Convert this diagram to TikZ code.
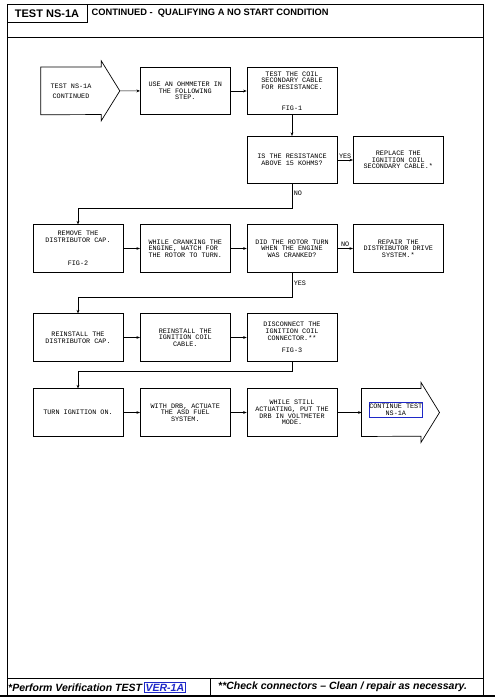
\documentclass[tikz,border=0pt]{standalone}
\usepackage{fontspec}
\setmainfont{Liberation Sans}
\newfontfamily\plotmono{Liberation Mono}
\usetikzlibrary{arrows.meta}
\definecolor{linkblue}{RGB}{30,40,200}
\newcommand{\plotfont}{\plotmono\fontsize{6.8}{6.6}\selectfont}
\begin{document}
\begin{tikzpicture}[x=1pt,y=-1pt,
  stepbox/.style={draw, line width=0.7pt, minimum width=90pt, minimum height=47.5pt, inner sep=1pt, align=center, font=\plotfont},
  flow/.style={line width=0.6pt, -{Stealth[length=3.5pt,width=2.8pt]}},
  lbl/.style={font=\plotfont, inner sep=1.5pt}]
\useasboundingbox (0,0) rectangle (495,700);
% page frame
\draw[line width=0.9pt] (7,4) rectangle (483,696);
\draw[line width=1.1pt] (0,696) -- (495,696);
\draw[line width=0.9pt] (7,37.5) -- (483,37.5);
\node[draw, line width=0.8pt, minimum width=80pt, minimum height=18.7pt, inner sep=0, font=\bfseries\fontsize{11}{13}\selectfont] (hdr) at (47,13.35) {TEST NS-1A};
\node[anchor=west, inner sep=0, font=\bfseries\fontsize{9.3}{11}\selectfont] (title) at (91.5,13.6) {CONTINUED -\ \ QUALIFYING A NO START CONDITION};
% footer notes
\draw[line width=0.9pt] (7,678.5) -- (483,678.5);
\draw[line width=0.9pt] (210,678.5) -- (210,696);
\node[anchor=west, inner sep=0, font=\bfseries\itshape\fontsize{10.5}{12}\selectfont] (note1) at (8,687.5) {*Perform Verification TEST};
\node[anchor=west, draw=linkblue, line width=0.8pt, text=linkblue, inner sep=1pt, font=\bfseries\itshape\fontsize{10.5}{12}\selectfont] (verlink) at ([xshift=2pt]note1.east) {VER-1A};
\node[anchor=west, inner sep=0, font=\bfseries\itshape\fontsize{10.5}{12}\selectfont] (note2) at (218,687) {**Check connectors – Clean / repair as necessary.};
% entry arrow
\node[font=\plotfont, align=center, minimum width=60pt, minimum height=47.3pt, inner sep=0] (start) at (71,90.9) {TEST NS-1A\\[3.4pt]CONTINUED};
\coordinate (starttip) at ([xshift=18.6pt]start.east);
\draw[line width=0.7pt] (start.north west) -- (start.north east) -- ++(0,-6.3) -- (starttip) -- ++(-18.6,29.95) -- ++(0,-6.3) -- (start.south west) -- cycle;
% row 1
\node[stepbox] (ohm) at (185.3,91) {USE AN OHMMETER IN\\THE FOLLOWING\\STEP.};
\node[stepbox] (coil) at (292,91) {TEST THE COIL\\SECONDARY CABLE\\FOR RESISTANCE.\\[14.4pt]FIG-1};
\node[stepbox] (ohms) at (292,160) {IS THE RESISTANCE\\ABOVE 15 KOHMS?};
\node[stepbox] (replace) at (398.3,160) {REPLACE THE\\IGNITION COIL\\SECONDARY CABLE.*};
% row 2
\node[stepbox] (remove) at (78,248.5) {REMOVE THE\\DISTRIBUTOR CAP.\\[16.4pt]FIG-2};
\node[stepbox, align=left] (watch) at (185.3,248.5) {WHILE CRANKING THE\\ENGINE, WATCH FOR\\THE ROTOR TO TURN.};
\node[stepbox] (rotor) at (292,248.5) {DID THE ROTOR TURN\\WHEN THE ENGINE\\WAS CRANKED?};
\node[stepbox] (repair) at (398.3,248.5) {REPAIR THE\\DISTRIBUTOR DRIVE\\SYSTEM.*};
% row 3
\node[stepbox] (capback) at (78,337.5) {REINSTALL THE\\DISTRIBUTOR CAP.};
\node[stepbox] (cableback) at (185.3,337.5) {REINSTALL THE\\IGNITION COIL\\CABLE.};
\node[stepbox] (unplug) at (292,337.5) {DISCONNECT THE\\IGNITION COIL\\CONNECTOR.**\\[6pt]FIG-3};
% row 4
\node[stepbox] (ignon) at (78,412.5) {TURN IGNITION ON.};
\node[stepbox] (asd) at (185.3,412.5) {WITH DRB, ACTUATE\\THE ASD FUEL\\SYSTEM.};
\node[stepbox] (voltmode) at (292,412.5) {WHILE STILL\\ACTUATING, PUT THE\\DRB IN VOLTMETER\\MODE.};
% exit arrow
\node[minimum width=59pt, minimum height=47.5pt, inner sep=0] (finish) at (391.2,412.5) {};
\coordinate (finishtip) at ([xshift=18.6pt]finish.east);
\draw[line width=0.7pt] (finish.north west) -- (finish.north east) -- ++(0,-6.3) -- (finishtip) -- ++(-18.6,30.05) -- ++(0,-6.3) -- (finish.south west) -- cycle;
\node[draw=linkblue, line width=0.9pt, font=\plotfont, align=center, minimum width=53.7pt, minimum height=15pt, inner sep=0] (contlink) at (395.8,409.8) {CONTINUE TEST\\[1pt]NS-1A};
% connectors
\draw[flow] (starttip) -- (ohm);
\draw[flow] (ohm) -- (coil);
\draw[flow] (coil) -- (ohms);
\draw[flow] (ohms) -- node[lbl, above] {YES} (replace);
\draw[flow] (ohms.south) -- node[lbl, right, pos=0.4] {NO} ++(0,24) -| (remove.north);
\draw[flow] (remove) -- (watch);
\draw[flow] (watch) -- (rotor);
\draw[flow] (rotor) -- node[lbl, above] {NO} (repair);
\draw[flow] (rotor.south) -- node[lbl, right, pos=0.43] {YES} ++(0,24.5) -| (capback.north);
\draw[flow] (capback) -- (cableback);
\draw[flow] (cableback) -- (unplug);
\draw[flow] (unplug.south) -- ++(0,9.75) -| (ignon.north);
\draw[flow] (ignon) -- (asd);
\draw[flow] (asd) -- (voltmode);
\draw[flow] (voltmode) -- (finish);
\end{tikzpicture}
\end{document}
